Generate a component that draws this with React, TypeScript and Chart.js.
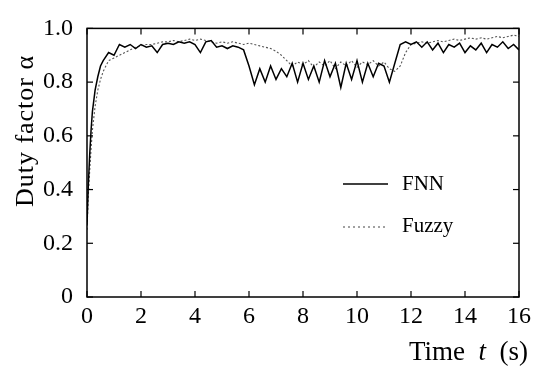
import React, { useEffect, useRef } from 'react';
import { Chart, registerables } from 'chart.js';

Chart.register(...registerables);

const FONT = '"Liberation Serif", "Times New Roman", serif';

// Time axis (s)
const timeS = [
  0, 0.05, 0.1, 0.15, 0.2, 0.3, 0.4, 0.5, 0.6, 0.8,
  1.0, 1.2, 1.4, 1.6, 1.8,
  2.0, 2.2, 2.4, 2.6, 2.8,
  3.0, 3.2, 3.4, 3.6, 3.8,
  4.0, 4.2, 4.4, 4.6, 4.8,
  5.0, 5.2, 5.4, 5.6, 5.8,
  6.0, 6.2, 6.4, 6.6, 6.8,
  7.0, 7.2, 7.4, 7.6, 7.8,
  8.0, 8.2, 8.4, 8.6, 8.8,
  9.0, 9.2, 9.4, 9.6, 9.8,
  10.0, 10.2, 10.4, 10.6, 10.8,
  11.0, 11.2, 11.4, 11.6, 11.8,
  12.0, 12.2, 12.4, 12.6, 12.8,
  13.0, 13.2, 13.4, 13.6, 13.8,
  14.0, 14.2, 14.4, 14.6, 14.8,
  15.0, 15.2, 15.4, 15.6, 15.8,
  16.0,
];

// Duty factor, FNN controller
const fnnValues = [
  0.27, 0.42, 0.53, 0.62, 0.69, 0.77, 0.82, 0.86, 0.88, 0.91,
  0.90, 0.94, 0.93, 0.94, 0.925,
  0.94, 0.93, 0.935, 0.91, 0.94,
  0.945, 0.94, 0.95, 0.945, 0.95,
  0.94, 0.91, 0.95, 0.955, 0.93,
  0.935, 0.925, 0.935, 0.93, 0.92,
  0.86, 0.79, 0.85, 0.80, 0.86,
  0.81, 0.85, 0.82, 0.87, 0.80,
  0.87, 0.81, 0.86, 0.80, 0.88,
  0.82, 0.87, 0.78, 0.87, 0.81,
  0.88, 0.80, 0.87, 0.82, 0.87,
  0.86, 0.80, 0.87, 0.94, 0.95,
  0.94, 0.95, 0.93, 0.95, 0.92,
  0.945, 0.91, 0.94, 0.93, 0.945,
  0.91, 0.935, 0.92, 0.945, 0.91,
  0.94, 0.93, 0.95, 0.925, 0.94,
  0.92,
];

// Duty factor, Fuzzy controller
const fuzzyValues = [
  0.25, 0.38, 0.47, 0.55, 0.62, 0.71, 0.77, 0.81, 0.84, 0.88,
  0.89, 0.90, 0.91, 0.92, 0.93,
  0.935, 0.94, 0.94, 0.945, 0.95,
  0.95, 0.955, 0.95, 0.955, 0.96,
  0.955, 0.96, 0.955, 0.95, 0.945,
  0.95, 0.945, 0.95, 0.945, 0.94,
  0.945, 0.94, 0.935, 0.93, 0.925,
  0.915, 0.90, 0.88, 0.86, 0.875,
  0.865, 0.88, 0.855, 0.875, 0.86,
  0.88, 0.85, 0.875, 0.86, 0.88,
  0.855, 0.875, 0.865, 0.88, 0.86,
  0.875, 0.85, 0.84, 0.86, 0.91,
  0.94, 0.945, 0.95, 0.945, 0.95,
  0.955, 0.95, 0.955, 0.96, 0.955,
  0.96, 0.965, 0.96, 0.965, 0.96,
  0.965, 0.97, 0.965, 0.97, 0.975,
  0.97,
];

const xTickValues = [0, 2, 4, 6, 8, 10, 12, 14, 16];
const yTickValues = [0, 0.2, 0.4, 0.6, 0.8, 1.0];
const seriesNames = ['FNN', 'Fuzzy'];
const yTitle = 'Duty factor \u03B1';

export default function App() {
  const ref = useRef<HTMLCanvasElement>(null);

  useEffect(() => {
    document.body.style.margin = '0';
    const canvas = ref.current!;

    const decor = {
      id: 'decor',
      afterDraw(chart: any) {
        const { ctx, chartArea: a, scales } = chart;
        ctx.save();
        ctx.strokeStyle = '#000';
        ctx.fillStyle = '#000';
        ctx.lineWidth = 1.5;
        ctx.setLineDash([]);
        ctx.strokeRect(a.left, a.top, a.right - a.left, a.bottom - a.top);

        const seg = (x1: number, y1: number, x2: number, y2: number) => {
          ctx.beginPath();
          ctx.moveTo(x1, y1);
          ctx.lineTo(x2, y2);
          ctx.stroke();
        };
        ctx.lineWidth = 1.2;
        xTickValues.forEach((v) => {
          const px = scales.x.getPixelForValue(v);
          seg(px, a.bottom, px, a.bottom - 6);
          seg(px, a.top, px, a.top + 6);
        });
        yTickValues.forEach((v) => {
          const py = scales.y.getPixelForValue(v);
          seg(a.left, py, a.left + 6, py);
          seg(a.right, py, a.right - 6, py);
        });

        // y-axis title
        ctx.save();
        ctx.font = `26px ${FONT}`;
        ctx.translate(26, 131);
        ctx.rotate(-Math.PI / 2);
        ctx.textAlign = 'center';
        ctx.textBaseline = 'middle';
        (ctx as any).letterSpacing = '1px';
        ctx.fillText(yTitle, 0, 0);
        ctx.restore();

        // x-axis title: "Time t (s)" with italic t
        const upright = `27px ${FONT}`;
        const italic = `italic 27px ${FONT}`;
        const parts: [string, string][] = [
          ['Time  ', upright],
          ['t', italic],
          ['  (s)', upright],
        ];
        let total = 0;
        parts.forEach(([t, f]) => {
          ctx.font = f;
          total += ctx.measureText(t).width;
        });
        let xx = 528 - total;
        ctx.textAlign = 'left';
        ctx.textBaseline = 'alphabetic';
        parts.forEach(([t, f]) => {
          ctx.font = f;
          ctx.fillText(t, xx, 360);
          xx += ctx.measureText(t).width;
        });

        // legend
        ctx.font = `21px ${FONT}`;
        ctx.textBaseline = 'middle';
        ctx.lineWidth = 1.3;
        ctx.setLineDash([]);
        seg(343, 184, 388, 184);
        ctx.fillText(seriesNames[0], 402, 184);
        ctx.lineWidth = 1.1;
        ctx.strokeStyle = '#444';
        ctx.setLineDash([2, 3]);
        seg(343, 227, 388, 227);
        ctx.setLineDash([]);
        ctx.fillText(seriesNames[1], 402, 226);
        ctx.restore();
      },
    };

    const chart = new Chart(canvas, {
      type: 'line',
      data: {
        datasets: [
          {
            label: seriesNames[0],
            data: timeS.map((t, i) => ({ x: t, y: fnnValues[i] })),
            borderColor: '#000',
            borderWidth: 1.5,
            pointRadius: 0,
            tension: 0,
            fill: false,
          },
          {
            label: seriesNames[1],
            data: timeS.map((t, i) => ({ x: t, y: fuzzyValues[i] })),
            borderColor: '#555',
            borderWidth: 1.1,
            borderDash: [2, 2],
            pointRadius: 0,
            tension: 0,
            fill: false,
          },
        ],
      },
      options: {
        animation: false,
        responsive: false,
        maintainAspectRatio: false,
        layout: { padding: { top: 15, right: 26, left: 0, bottom: 0 } },
        plugins: {
          legend: { display: false },
          tooltip: { enabled: false },
          title: { display: false },
        },
        scales: {
          x: {
            type: 'linear',
            min: 0,
            max: 16,
            grid: { display: false, drawTicks: false },
            border: { display: false },
            afterBuildTicks: (s: any) => {
              s.ticks = xTickValues.map((v) => ({ value: v }));
            },
            afterFit: (s: any) => {
              s.height = 71;
            },
            ticks: {
              color: '#000',
              font: { family: FONT, size: 24 },
              padding: 5,
              maxRotation: 0,
              autoSkip: false,
              callback: (v: any) => String(v),
            },
          },
          y: {
            type: 'linear',
            min: 0,
            max: 1,
            grid: { display: false, drawTicks: false },
            border: { display: false },
            afterBuildTicks: (s: any) => {
              s.ticks = yTickValues.map((v) => ({ value: v }));
            },
            afterFit: (s: any) => {
              s.width = 87;
            },
            ticks: {
              color: '#000',
              font: { family: FONT, size: 24 },
              padding: 14,
              autoSkip: false,
              callback: (v: any) => (Number(v) === 0 ? '0' : Number(v).toFixed(1)),
            },
          },
        },
      },
      plugins: [decor],
    } as any);

    return () => chart.destroy();
  }, []);

  return (
    <div style={{ width: 545, height: 368, background: '#fff' }}>
      <canvas ref={ref} width={545} height={368} style={{ display: 'block' }} />
    </div>
  );
}
